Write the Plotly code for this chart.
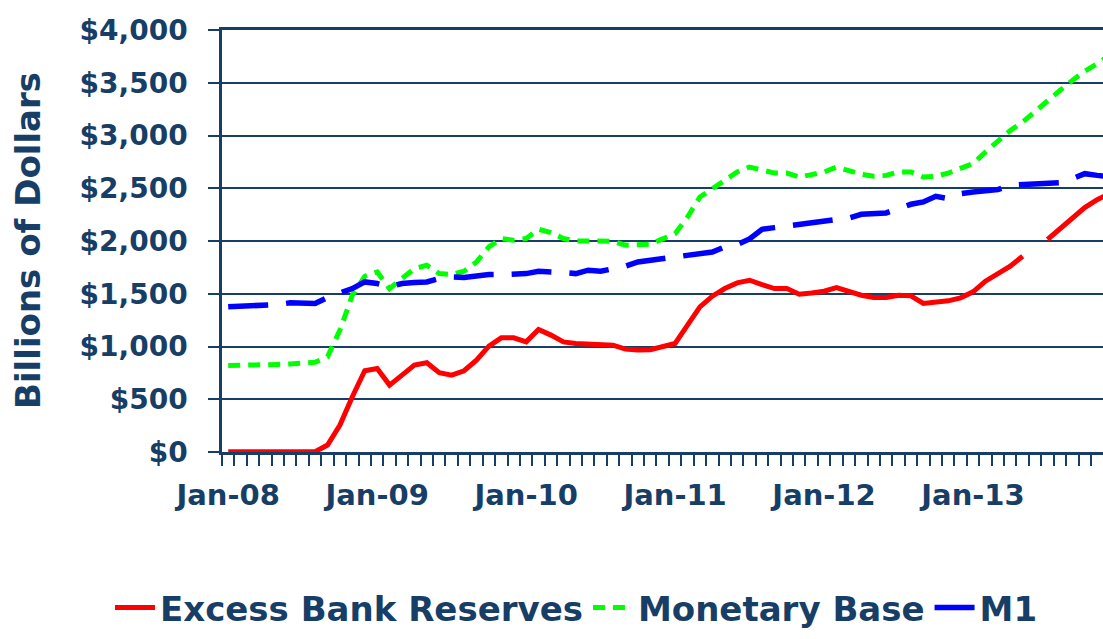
import plotly.graph_objects as go

# ---- data (monthly, Jan-08 .. Dec-13) ----
years = ["08", "09", "10", "11", "12", "13"]
month_names = ["Jan", "Feb", "Mar", "Apr", "May", "Jun", "Jul", "Aug", "Sep", "Oct", "Nov", "Dec"]
months = [f"{m}-{y}" for y in years for m in month_names]

excess_reserves = [
    2, 2, 2, 2, 2, 2, 2, 2, 66, 255, 524, 770,
    792, 634, 729, 824, 846, 751, 729, 770, 871, 1003, 1082, 1082,
    1044, 1162, 1108, 1044, 1029, 1022, 1019, 1013, 975, 966, 970, 997,
    1029, 1202, 1376, 1477, 1549, 1603, 1628, 1587, 1549, 1549, 1496, 1508,
    1524, 1559, 1518, 1486, 1464, 1464, 1486, 1480, 1408, 1417, 1433, 1461,
    1518, 1619, 1692, 1761, 1856, None, 2014, 2118, 2212, 2317, 2392, 2450,
]
monetary_base = [
    820, 820, 822, 825, 830, 835, 840, 850, 903, 1155, 1486, 1666,
    1707, 1549, 1644, 1739, 1770, 1691, 1682, 1713, 1801, 1944, 2023, 2007,
    2023, 2111, 2080, 2023, 2001, 2001, 2004, 1998, 1960, 1960, 1970, 2020,
    2070, 2228, 2417, 2496, 2575, 2654, 2701, 2670, 2644, 2644, 2606, 2629,
    2654, 2701, 2663, 2632, 2613, 2622, 2654, 2654, 2606, 2613, 2644, 2686,
    2733, 2843, 2950, 3048, 3127, 3231, 3332, 3427, 3522, 3610, 3680, 3760,
]
m1 = [
    1376, 1380, 1382, 1385, 1398, 1414, 1408, 1408, 1464, 1502, 1549, 1612,
    1597, 1565, 1597, 1606, 1612, 1644, 1660, 1654, 1669, 1682, 1682, 1682,
    1691, 1713, 1713, 1701, 1691, 1723, 1713, 1739, 1761, 1801, 1818, 1833,
    1849, 1871, 1880, 1896, 1944, 1966, 2020, 2111, 2127, 2143, 2165, 2175,
    2197, 2206, 2218, 2253, 2260, 2266, 2307, 2348, 2370, 2424, 2402, 2449,
    2465, 2480, 2487, 2528, 2534, 2534, 2553, 2553, 2591, 2638, 2622, 2610,
]
tick_labels = ["Jan-08", "Jan-09", "Jan-10", "Jan-11", "Jan-12", "Jan-13"]
y_ticks = [0, 500, 1000, 1500, 2000, 2500, 3000, 3500, 4000]
y_tick_text = ["$0", "$500", "$1,000", "$1,500", "$2,000", "$2,500", "$3,000", "$3,500", "$4,000"]

# ---- styling ----
NAVY = "#173E66"
FONT = "DejaVu Sans"
x_idx = list(range(len(months)))
label_pos = [months.index(t) for t in tick_labels]

fig = go.Figure()
fig.add_trace(go.Scatter(
    x=x_idx, y=excess_reserves, name="Excess Bank Reserves", mode="lines",
    line=dict(color="#FF0000", width=5), connectgaps=False,
    customdata=months, hovertemplate="%{customdata}: %{y}<extra></extra>"))
fig.add_trace(go.Scatter(
    x=x_idx, y=monetary_base, name="Monetary Base", mode="lines",
    line=dict(color="#00FF00", width=5, dash="12px,8px"),
    customdata=months, hovertemplate="%{customdata}: %{y}<extra></extra>"))
fig.add_trace(go.Scatter(
    x=x_idx, y=m1, name="M1", mode="lines",
    line=dict(color="#0000FF", width=5.5, dash="40px,18px"),
    customdata=months, hovertemplate="%{customdata}: %{y}<extra></extra>"))

fig.update_layout(
    width=1103, height=639,
    margin=dict(l=222, r=0, t=30, b=187),
    paper_bgcolor="white", plot_bgcolor="white",
    font=dict(family=FONT, color=NAVY, size=28, weight="bold"),
    showlegend=True,
    legend=dict(orientation="h", x=(110 - 222) / 881, xanchor="left",
                y=(452 - 637) / 422.5, yanchor="bottom",
                font=dict(family=FONT, size=34, color=NAVY, weight="bold"),
                itemwidth=40, bgcolor="rgba(0,0,0,0)"),
    xaxis=dict(
        range=[-0.5, 70.47], tickmode="array", tickvals=label_pos, ticktext=tick_labels,
        ticks="outside", ticklen=11, tickcolor="rgba(0,0,0,0)", ticklabelstandoff=4,
        showgrid=False, zeroline=False, showline=True, linecolor=NAVY, linewidth=3, mirror=True,
        automargin=False,
        tickfont=dict(family=FONT, size=29, color=NAVY, weight="bold"),
        minor=dict(ticks="outside", ticklen=11, tickwidth=2, tickcolor=NAVY,
                   tick0=-0.5, dtick=1, showgrid=False),
    ),
    yaxis=dict(
        range=[0, 4000], tickmode="array", tickvals=y_ticks, ticktext=y_tick_text,
        ticks="outside", ticklen=11, tickwidth=2, tickcolor=NAVY, ticklabelstandoff=15,
        showgrid=True, gridcolor=NAVY, gridwidth=2, zeroline=False,
        showline=True, linecolor=NAVY, linewidth=2.5, automargin=False,
        tickfont=dict(family=FONT, size=28, color=NAVY, weight="bold"),
    ),
    annotations=[dict(
        text="Billions of Dollars", textangle=-90, xref="paper", yref="paper",
        x=(28 - 222) / 881, y=0.5, xanchor="center", yanchor="middle", showarrow=False,
        font=dict(family=FONT, size=34, color=NAVY, weight="bold"))],
)

fig.write_html("out.html", config={"displayModeBar": False},
               post_script="document.body.style.margin='0';")
